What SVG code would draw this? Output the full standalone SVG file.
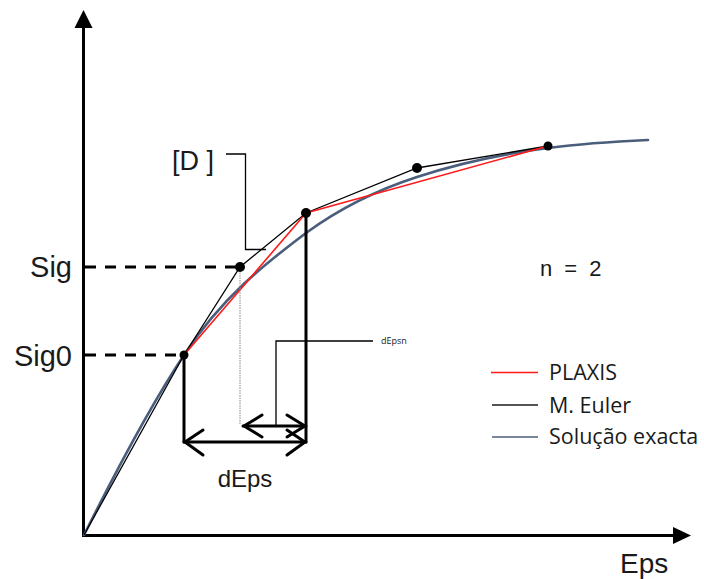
<svg xmlns="http://www.w3.org/2000/svg" width="704" height="579" viewBox="0 0 704 579">
<style>
.big{font-family:"Liberation Sans",Arial,sans-serif;fill:#1a1a1a}
.leg{font-family:"Open Sans","Liberation Sans",sans-serif;fill:#1a1a1a;font-size:21.5px}
.ax{stroke:#000;stroke-width:3;fill:none}
.dash{stroke:#000;stroke-width:3;stroke-dasharray:11 9;fill:none}
.thick{stroke:#000;stroke-width:3;fill:none;stroke-linecap:round;stroke-linejoin:round}
.thin{stroke:#000;stroke-width:1.3;fill:none}
.red{stroke:#ff1a1a;stroke-width:1.6;fill:none}
.blue{stroke:#4a5e7c;stroke-width:2.6;fill:none;stroke-linecap:round}
.dot{fill:#000}
</style>
<rect width="704" height="579" fill="#fff"/>
<g id="axes">
<line class="ax" x1="83.5" y1="537" x2="83.5" y2="26"/>
<polygon points="83.5,10 74.5,28 92.5,28" fill="#000"/>
<line class="ax" x1="82" y1="535.5" x2="675" y2="535.5"/>
<polygon points="691,535.5 673,527 673,544" fill="#000"/>
</g>
<g id="connectors">
<line class="dash" x1="85" y1="267" x2="240" y2="267"/>
<line class="dash" x1="85" y1="355" x2="184" y2="355"/>
<path class="blue" d="M84,535 C116,471 150,406 184,355 C222,297 266,263 306,233 C343,206 380,189 417,177 C461,162.5 504,153.7 548,148 C581,143.7 615,141.5 648,140"/>
<polyline class="thin" points="84,535 184,355 240,267 306,213 417,168 548,146"/>
<polyline class="red" points="184,355 306,213 548,146"/>
<line x1="240" y1="270" x2="240" y2="424" stroke="#888" stroke-width="1" stroke-dasharray="1.5 1"/>
<line class="thick" x1="184" y1="355" x2="184" y2="442"/>
<line class="thick" x1="306" y1="213" x2="306" y2="442"/>
<line class="thick" x1="184" y1="442" x2="306" y2="442"/>
<polyline class="thick" points="203,430 185,442 203,455"/>
<polyline class="thick" points="287,430 305,442 287,455"/>
<line class="thick" x1="243" y1="426" x2="306" y2="426"/>
<polyline class="thick" points="262,415 244,426 262,437"/>
<polyline class="thick" points="287,415 305,426 287,437"/>
<polyline class="thin" points="276,426 276,341 373,341"/>
<polyline class="thin" points="226,154 245.5,154 245.5,249.5 266,249.5"/>
</g>
<g id="points">
<circle class="dot" cx="184" cy="355" r="4.5"/>
<circle class="dot" cx="240" cy="267" r="5"/>
<circle class="dot" cx="306" cy="213" r="5"/>
<circle class="dot" cx="417" cy="168" r="5"/>
<circle class="dot" cx="548" cy="146" r="4.5"/>
</g>
<g id="labels">
<text class="big" x="72" y="277" font-size="29" text-anchor="end">Sig</text>
<text class="big" x="72" y="366" font-size="29" text-anchor="end">Sig0</text>
<text class="big" x="172" y="170" font-size="27">[D ]</text>
<text class="big" x="245" y="487" font-size="24" text-anchor="middle">dEps</text>
<text class="big" x="620" y="573" font-size="28">Eps</text>
<text class="big" x="540" y="276" font-size="22" word-spacing="6">n = 2</text>
<text x="381" y="344" font-family="Open Sans, Liberation Sans, sans-serif" font-size="9" fill="#1a1a1a">dEpsn</text>
</g>
<g id="legend">
<line x1="491" y1="372.5" x2="538" y2="372.5" stroke="#ff1a1a" stroke-width="1.6"/>
<line x1="492" y1="405" x2="538" y2="405" stroke="#1a1a1a" stroke-width="1.6"/>
<line x1="492" y1="437" x2="538" y2="437" stroke="#4a5e7c" stroke-width="1.6"/>
<text class="leg" x="549" y="380">PLAXIS</text>
<text class="leg" x="549" y="413">M. Euler</text>
<text class="leg" x="549" y="444">Solução exacta</text>
</g>
</svg>
